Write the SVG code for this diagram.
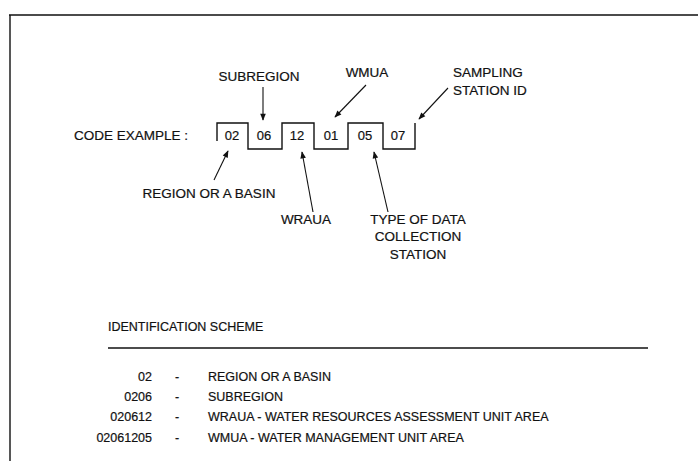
<svg xmlns="http://www.w3.org/2000/svg" width="698" height="461" viewBox="0 0 698 461">
<defs>
<style>
text{font-family:"Liberation Sans",Arial,sans-serif;font-size:12.5px;fill:#111;stroke:#111;stroke-width:0.2}
.u{font-size:13.5px}
.d{font-size:13px}
.c{text-anchor:middle}
.e{text-anchor:end}
.ln{fill:none;stroke:#111;stroke-width:1.4}
.ar{fill:none;stroke:#111;stroke-width:1.1;marker-end:url(#ah)}
</style>
<marker id="ah" viewBox="0 0 10 10" refX="9" refY="5" markerWidth="8" markerHeight="7" markerUnits="userSpaceOnUse" orient="auto">
<path d="M0,1 L10,5 L0,9 z" fill="#111"/>
</marker>
</defs>
<rect width="698" height="461" fill="#fff"/>
<path class="ln" d="M9,15 H698 M10,15 V461" stroke-width="1.6"/>
<g id="code-box">
<path class="ln" d="M217,141 V123 H248 V149 H282 V123 H314 V149 H348 V123 H383 V149 H415 V123"/>
<text class="c d" x="232" y="140">02</text>
<text class="c d" x="264" y="140">06</text>
<text class="c d" x="297" y="140">12</text>
<text class="c d" x="331" y="140">01</text>
<text class="c d" x="365" y="140">05</text>
<text class="c d" x="398" y="140">07</text>
</g>
<g id="code-example"><text class="e u" x="188" y="140">CODE EXAMPLE :</text></g>
<g id="subregion"><text class="c u" x="259" y="81">SUBREGION</text></g>
<g id="wmua"><text class="c u" x="367" y="77">WMUA</text></g>
<g id="sampling"><text class="u" x="453" y="77">SAMPLING</text><text class="u" x="453" y="95">STATION ID</text></g>
<g id="region"><text class="c u" x="209" y="198">REGION OR A BASIN</text></g>
<g id="wraua"><text class="c u" x="306" y="224">WRAUA</text></g>
<g id="type"><text class="c u" x="418" y="224">TYPE OF DATA</text><text class="c u" x="418" y="241">COLLECTION</text><text class="c u" x="418" y="259">STATION</text></g>
<g id="connectors">
<line class="ar" x1="263" y1="87" x2="263" y2="120"/>
<line class="ar" x1="366" y1="85" x2="335" y2="117"/>
<line class="ar" x1="448" y1="88" x2="419" y2="119"/>
<line class="ar" x1="214" y1="180" x2="228" y2="151"/>
<line class="ar" x1="313" y1="212" x2="302" y2="152"/>
<line class="ar" x1="388" y1="212" x2="374" y2="152"/>
</g>
<g id="scheme">
<text x="108" y="331">IDENTIFICATION SCHEME</text>
<line class="ln" x1="108" y1="348" x2="648" y2="348"/>
<text class="e" x="152" y="381">02</text><text class="c" x="177" y="381">-</text><text x="208" y="381">REGION OR A BASIN</text>
<text class="e" x="152" y="401">0206</text><text class="c" x="177" y="401">-</text><text x="208" y="401">SUBREGION</text>
<text class="e" x="152" y="421">020612</text><text class="c" x="177" y="421">-</text><text x="208" y="421">WRAUA - WATER RESOURCES ASSESSMENT UNIT AREA</text>
<text class="e" x="152" y="442">02061205</text><text class="c" x="177" y="442">-</text><text x="208" y="442">WMUA - WATER MANAGEMENT UNIT AREA</text>
</g>
</svg>
